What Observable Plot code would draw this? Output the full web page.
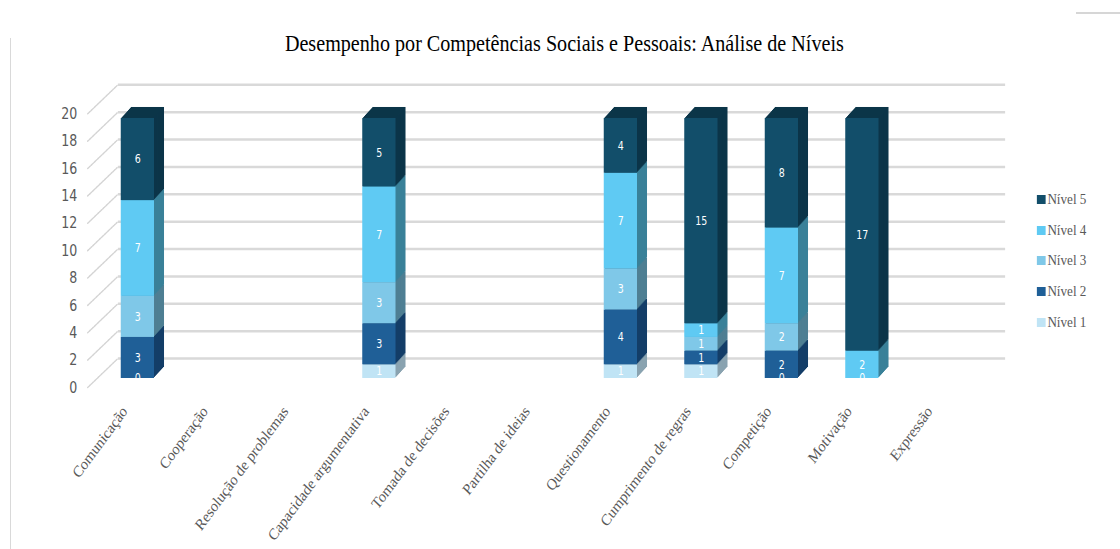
<!DOCTYPE html>
<html>
<head>
<meta charset="utf-8">
<script src="https://cdn.jsdelivr.net/npm/d3@7"></script>
<script src="https://cdn.jsdelivr.net/npm/@observablehq/plot@0.6"></script>
<style>
  html, body { margin: 0; padding: 0; background: #fff; }
  #wrap { position: relative; width: 1120px; height: 549px; overflow: hidden; background: #fff; }
  #inner { position: absolute; left: 0; top: 0; width: 1280px; height: 549px; transform: scaleX(0.875); transform-origin: 0 0; }
  #title { position: absolute; left: 0; top: 32px; width: 1290px; text-align: center; font-family: "Liberation Serif", "Times New Roman", serif; font-size: 23px; line-height: 23px; color: #000; }
  #legend { position: absolute; left: 1185px; top: 184px; font-family: "Liberation Serif", "Times New Roman", serif; font-size: 15px; color: #595959; }
  #legend .item { display: flex; align-items: center; height: 30.7px; }
  #legend .sw { width: 10px; height: 9px; margin-right: 2px; }
  #bl { position: absolute; left: 10px; top: 38px; width: 1px; height: 511px; background: #d9d9d9; }
  #bt { position: absolute; left: 1076px; top: 12px; width: 44px; height: 2px; background: #d6d6d6; }
  #chart svg { position: absolute; left: 0; top: 0; }
  #chart [aria-label="x-axis tick label"] text { font-family: "Liberation Serif", "Times New Roman", serif; font-size: 16px; fill: #595959; }
  #chart [aria-label="y-axis tick label"] text { font-family: "Liberation Sans Narrow", "DejaVu Sans Condensed", "Liberation Sans", sans-serif; font-size: 16px; fill: #595959; }
</style>
</head>
<body>
<div id="wrap">
  <div id="bl"></div>
  <div id="bt"></div>
  <div id="inner">
    <div id="chart"></div>
    <div id="title"></div>
    <div id="legend"></div>
  </div>
</div>
<script>
const titulo = "Desempenho por Competências Sociais e Pessoais: Análise de Níveis";
const categorias = ["Comunicação", "Cooperação", "Resolução de problemas", "Capacidade argumentativa", "Tomada de decisões", "Partilha de ideias", "Questionamento", "Cumprimento de regras", "Competição", "Motivação", "Expressão"];
const niveis = ["Nível 1", "Nível 2", "Nível 3", "Nível 4", "Nível 5"];
const nivel1 = [0, null, null, 1, null, null, 1, 1, 0, 0, null];
const nivel2 = [3, null, null, 3, null, null, 4, 1, 2, null, null];
const nivel3 = [3, null, null, 3, null, null, 3, 1, 2, null, null];
const nivel4 = [7, null, null, 7, null, null, 7, 1, 7, 2, null];
const nivel5 = [6, null, null, 5, null, null, 4, 15, 8, 17, null];
const coresFrente = ["#C0E4F5", "#1F5F97", "#7FC8E8", "#5FCAF3", "#124E6A"];
const coresLado = ["#8AA3B0", "#143E68", "#4F7F93", "#3A8199", "#0C3549"];
const yTicks = [0, 2, 4, 6, 8, 10, 12, 14, 16, 18, 20];

const series = [nivel1, nivel2, nivel3, nivel4, nivel5];
const rows = [];
series.forEach((vals, li) => {
  vals.forEach((v, ci) => {
    if (v !== null) rows.push({cat: categorias[ci], level: niveis[li], li, value: v});
  });
});

const stackOpts = {x: "cat", y: "value", z: "level"};

// extrusion layers (3D depth), far to near
const depthLayers = [];
for (let i = 11; i >= 1; i--) {
  depthLayers.push(Plot.rectY(rows, Plot.stackY({...stackOpts, fill: d => coresLado[d.li], dx: i * 1.04, dy: -i})));
}

const lineShape = {
  draw(context, l) { context.moveTo(0, 0); context.lineTo(0, -l); }
};

const chart = Plot.plot({
  width: 1280,
  height: 549,
  marginLeft: 82.7,
  marginRight: 128.3,
  marginTop: 104.3,
  marginBottom: 171,
  style: {background: "transparent", overflow: "visible"},
  x: {domain: categorias, padding: 0.59, label: null},
  y: {domain: [0, 20], label: null},
  color: {type: "identity"},
  marks: [
    Plot.ruleY(yTicks, {stroke: "#d9d9d9", strokeWidth: 2.5, dy: -20, insetLeft: 52, insetRight: 3}),
    Plot.vector(yTicks, {y: d => d, frameAnchor: "left", anchor: "start", rotate: 50, length: 45, shape: lineShape,
      stroke: "#d4d4d4", strokeWidth: 1.5, strokeDasharray: "1.5,1", dx: 17, dy: 9}),
    Plot.axisY(yTicks, {tickSize: 0, tickPadding: 0, dx: 5, dy: 9, label: null}),
    Plot.axisX({tickSize: 0, tickPadding: 30, tickRotate: -50, dx: -15, label: null}),
    ...depthLayers,
    Plot.rectY(rows, Plot.stackY({...stackOpts, fill: d => coresFrente[d.li]})),
    Plot.text(rows, Plot.stackY({...stackOpts, text: d => String(d.value), fill: "white",
      fontSize: 12, fontFamily: "'Liberation Sans Narrow', 'DejaVu Sans Condensed', 'Liberation Sans', sans-serif"}))
  ]
});
document.getElementById("chart").appendChild(chart);
document.getElementById("title").textContent = titulo;

const legend = document.getElementById("legend");
for (let i = niveis.length - 1; i >= 0; i--) {
  const item = document.createElement("div");
  item.className = "item";
  const sw = document.createElement("div");
  sw.className = "sw";
  sw.style.background = coresFrente[i];
  const lab = document.createElement("span");
  lab.textContent = niveis[i];
  item.appendChild(sw);
  item.appendChild(lab);
  legend.appendChild(item);
}
</script>
</body>
</html>
